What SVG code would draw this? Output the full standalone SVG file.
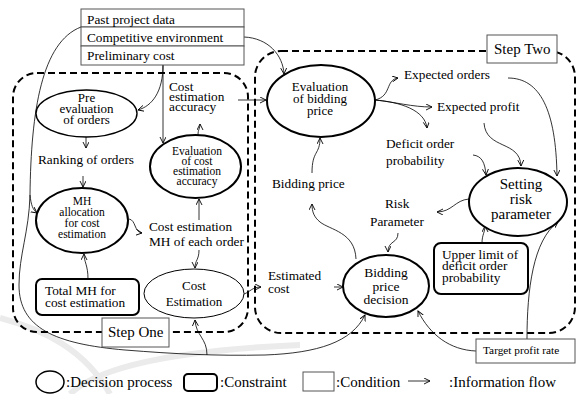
<svg xmlns="http://www.w3.org/2000/svg" width="578" height="394" viewBox="0 0 578 394">
<style>
text{font-family:"Liberation Serif","Times New Roman",serif;fill:#000}
.t{font-size:13.3px}
.s{font-size:11.5px}
.m{text-anchor:middle}
.lg{font-size:15px}
.dp{fill:#fff;stroke:#000;stroke-width:2}
.cons{fill:#fff;stroke:#000;stroke-width:2}
.cond{fill:#fff;stroke:#555;stroke-width:1}
.region{fill:none;stroke:#000;stroke-width:2;stroke-dasharray:7 4}
.c{fill:none;stroke:#000;stroke-width:0.8}
.wm{fill:none;stroke:#ebebeb;stroke-width:6}
</style>
<defs>
<marker id="ar" markerUnits="userSpaceOnUse" markerWidth="8" markerHeight="8" refX="6" refY="3" orient="auto">
<path d="M0,0 L6,3 L0,6" fill="none" stroke="#000" stroke-width="0.9"/>
</marker>
</defs>
<rect width="578" height="394" fill="#fff"/>
<g id="watermark">
<path class="wm" d="M0,318 C45,330 85,350 110,394"/>
<path class="wm" d="M70,394 C100,365 180,350 300,345"/>
</g>
<g id="regions">
<rect class="region" x="13" y="73" width="235" height="259" rx="24"/>
<rect class="region" x="255" y="51" width="320" height="282" rx="26"/>
</g>
<g id="connectors">
<path class="c" d="M163,65 C163,92 152,106 138,110" marker-end="url(#ar)"/>
<path class="c" d="M163,65 L163,143" marker-end="url(#ar)"/>
<path class="c" d="M81,27 C42,42 31,110 30,195 C29,232 19,255 19,285 C19,328 55,344 125,350 C175,354 215,356 265,355 C318,353 352,342 365,315" marker-end="url(#ar)"/>
<path class="c" d="M30,195 C31,205 33,210 37,213" marker-end="url(#ar)"/>
<path class="c" d="M207,355 C207,338 196,336 195,320" marker-end="url(#ar)"/>
<path class="c" d="M244,37 C268,38 283,55 284,74" marker-end="url(#ar)"/>
<path class="c" d="M238,100 L266,100" marker-end="url(#ar)"/>
<path class="c" d="M198,135 C198,129 200,129 200,124" marker-end="url(#ar)"/>
<path class="c" d="M86,137 L86,148" marker-end="url(#ar)"/>
<path class="c" d="M83,176 L83,187" marker-end="url(#ar)"/>
<path class="c" d="M88,279 C88,265 84,262 84,254" marker-end="url(#ar)"/>
<path class="c" d="M129,219 C136,220 134,232 142,233" marker-end="url(#ar)"/>
<path class="c" d="M199,220 L199,199" marker-end="url(#ar)"/>
<path class="c" d="M199,250 C199,260 195,260 195,268" marker-end="url(#ar)"/>
<path class="c" d="M244,294 C250,292 252,287 261,287" marker-end="url(#ar)"/>
<path class="c" d="M334,287 L343,287" marker-end="url(#ar)"/>
<path class="c" d="M356,259 C355,232 330,230 320,222 C314,217 312,212 312,204" marker-end="url(#ar)"/>
<path class="c" d="M312,173 C312,150 320,155 320,138" marker-end="url(#ar)"/>
<path class="c" d="M375,100 C392,96 385,80 398,78" marker-end="url(#ar)"/>
<path class="c" d="M375,100 C395,102 412,107 432,107" marker-end="url(#ar)"/>
<path class="c" d="M375,100 C400,102 425,110 427,128" marker-end="url(#ar)"/>
<path class="c" d="M508,78 C540,78 556,110 557,176" marker-end="url(#ar)"/>
<path class="c" d="M484,123 C486,150 520,140 521,166" marker-end="url(#ar)"/>
<path class="c" d="M473,155 C482,156 485,163 486,175" marker-end="url(#ar)"/>
<path class="c" d="M469,199 C455,200 452,212 437,212" marker-end="url(#ar)"/>
<path class="c" d="M398,233 C398,244 388,240 388,252" marker-end="url(#ar)"/>
<path class="c" d="M482,243 C482,235 485,232 485,226" marker-end="url(#ar)"/>
<path class="c" d="M527,339 C527,290 533,240 558,222" marker-end="url(#ar)"/>
<path class="c" d="M476,351 C450,350 430,335 418,311" marker-end="url(#ar)"/>
</g>
<g id="conditions">
<rect class="cond" x="81" y="9" width="163" height="18"/>
<rect class="cond" x="81" y="27" width="163" height="19"/>
<rect class="cond" x="81" y="46" width="163" height="19"/>
<text class="t" x="87" y="24">Past project data</text>
<text class="t" x="87" y="42">Competitive environment</text>
<text class="t" x="87" y="60">Preliminary cost</text>
</g>
<g id="step-one-label">
<rect class="cond" x="102" y="318" width="67" height="29"/>
<text class="lg" x="108" y="337">Step One</text>
</g>
<g id="step-two-label">
<rect class="cond" x="487" y="35" width="70" height="28"/>
<text class="lg" x="494" y="54">Step Two</text>
</g>
<g id="pre-evaluation">
<ellipse cx="86.5" cy="113.5" rx="50.5" ry="23.5" fill="#fff" stroke="#000" stroke-width="1.4"/>
<text class="m" font-size="13" x="86.5" y="102">Pre</text>
<text class="m" font-size="13" x="86.5" y="113">evaluation</text>
<text class="m" font-size="13" x="86.5" y="123.5">of orders</text>
</g>
<g id="eval-cost-accuracy">
<ellipse class="dp" cx="195.5" cy="166.5" rx="45.5" ry="31.5"/>
<text class="s m" x="197" y="155">Evaluation</text>
<text class="s m" x="197" y="165">of cost</text>
<text class="s m" x="197" y="175">estimation</text>
<text class="s m" x="197" y="185">accuracy</text>
</g>
<g id="mh-allocation">
<ellipse class="dp" cx="82" cy="220.5" rx="46" ry="32.5"/>
<text class="s m" x="82" y="205">MH</text>
<text class="s m" x="82" y="216">allocation</text>
<text class="s m" x="82" y="227">for cost</text>
<text class="s m" x="82" y="237.5">estimation</text>
</g>
<g id="cost-estimation">
<ellipse cx="194" cy="293.5" rx="50" ry="24.5" fill="#fff" stroke="#000" stroke-width="1"/>
<text class="m" font-size="13" x="194" y="290">Cost</text>
<text class="m" font-size="13" x="194" y="306">Estimation</text>
</g>
<g id="total-mh">
<rect class="cons" x="36" y="279" width="103" height="36" rx="6"/>
<text class="t" x="45" y="295">Total MH for</text>
<text class="t" x="45" y="307">cost estimation</text>
</g>
<g id="eval-bidding-price">
<ellipse class="dp" cx="321" cy="101" rx="54" ry="36"/>
<text class="m" font-size="13" x="320" y="91">Evaluation</text>
<text class="m" font-size="13" x="320" y="103">of bidding</text>
<text class="m" font-size="13" x="320" y="115">price</text>
</g>
<g id="setting-risk">
<ellipse class="dp" cx="518" cy="202" rx="49" ry="34"/>
<text class="m" font-size="15" x="521" y="189">Setting</text>
<text class="m" font-size="15" x="521" y="204">risk</text>
<text class="m" font-size="15" x="521" y="219">parameter</text>
</g>
<g id="bidding-decision">
<ellipse class="dp" cx="386" cy="286" rx="43" ry="31"/>
<text class="m" font-size="13.5" x="386" y="277">Bidding</text>
<text class="m" font-size="13.5" x="386" y="290.5">price</text>
<text class="m" font-size="13.5" x="386" y="304">decision</text>
</g>
<g id="upper-limit">
<rect class="cons" x="434" y="243" width="94" height="51" rx="7"/>
<text class="t" x="442" y="259">Upper limit of</text>
<text class="t" x="442" y="270">deficit order</text>
<text class="t" x="442" y="282">probability</text>
</g>
<g id="target-profit">
<rect class="cond" x="476" y="339" width="99" height="24"/>
<text font-size="11.3" x="483" y="354">Target profit rate</text>
</g>
<g id="labels">
<text class="t" x="169" y="91">Cost</text>
<text class="t" x="169" y="101">estimation</text>
<text class="t" x="169" y="111">accuracy</text>
<text class="t" x="38" y="164">Ranking of orders</text>
<text class="t" x="149" y="231">Cost estimation</text>
<text class="t" x="149" y="246">MH of each order</text>
<text class="t" x="272" y="188">Bidding price</text>
<text class="t" x="268" y="280">Estimated</text>
<text class="t" x="268" y="293">cost</text>
<text class="t" x="385" y="208">Risk</text>
<text class="t" x="370" y="226">Parameter</text>
<text class="t" x="404" y="79">Expected orders</text>
<text class="t" x="437" y="111">Expected profit</text>
<text class="t" x="386" y="148">Deficit order</text>
<text class="t" x="386" y="165">probability</text>
</g>
<g id="legend">
<ellipse cx="50" cy="382" rx="14" ry="11" fill="#fff" stroke="#000" stroke-width="1.5"/>
<text class="lg" x="66" y="387">:Decision process</text>
<rect class="cons" x="184" y="374" width="33" height="17" rx="4"/>
<text class="lg" x="220" y="387">:Constraint</text>
<rect class="cond" x="303" y="372" width="31" height="19"/>
<text class="lg" x="336" y="387">:Condition</text>
<path class="c" d="M408,381 L430,381" marker-end="url(#ar)"/>
<text class="lg" x="449" y="387">:Information flow</text>
</g>
</svg>
